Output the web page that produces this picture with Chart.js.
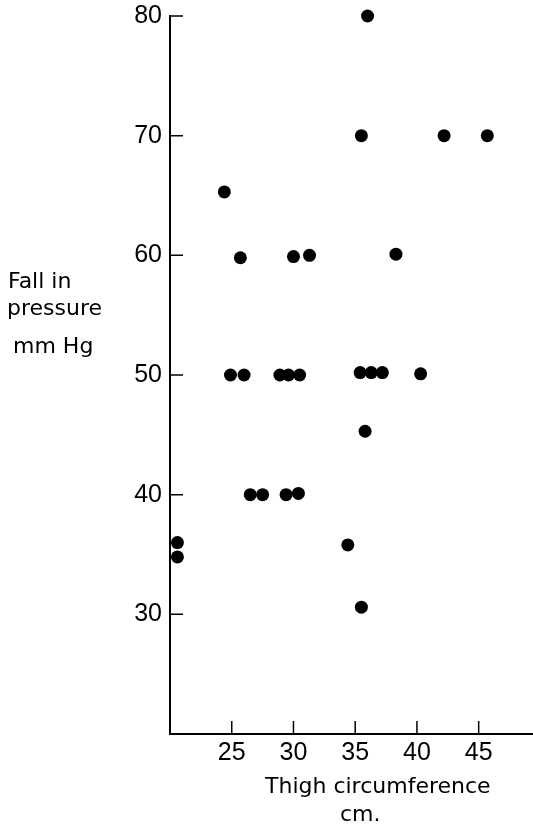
<!DOCTYPE html>
<html>
<head>
<meta charset="utf-8">
<script src="https://cdn.jsdelivr.net/npm/chart.js@4"></script>
<style>
  html, body { margin: 0; padding: 0; background: #fff; }
  #wrap { width: 533px; height: 826px; position: relative; }
</style>
</head>
<body>
<div id="wrap"><canvas id="grafica"></canvas></div>
<script>
// thigh circumference (cm) and fall in pressure (mm Hg)
const thigh = [36, 35.5, 42.2, 45.7, 24.4, 25.7, 30, 31.3, 38.3,
  24.9, 26, 28.9, 29.6, 30.5, 35.4, 36.3, 37.2, 40.3, 35.8,
  26.5, 27.5, 29.4, 30.4, 20.6, 20.6, 34.4, 35.5];
const fall = [80, 70, 70, 70, 65.3, 59.8, 59.9, 60, 60.1,
  50, 50, 50, 50, 50, 50.2, 50.2, 50.2, 50.1, 45.3,
  40, 40, 40, 40.1, 36, 34.8, 35.8, 30.6];

const xTicks = [25, 30, 35, 40, 45];
const yTicks = [30, 40, 50, 60, 70, 80];
const yTitle = ['Fall in', 'pressure', 'mm Hg'];
const xTitle = ['Thigh circumference', 'cm.'];

const puntos = thigh.map((v, i) => ({ x: v, y: fall[i] }));

// ticks drawn inward + the axis titles laid out like the original
const marcas = {
  id: 'marcas',
  afterDraw(chart) {
    const { ctx, chartArea, scales } = chart;
    ctx.save();
    ctx.strokeStyle = '#000';
    ctx.lineWidth = 1.5;
    ctx.beginPath();
    yTicks.forEach(v => {
      const py = scales.y.getPixelForValue(v);
      ctx.moveTo(chartArea.left, py);
      ctx.lineTo(chartArea.left + 13, py);
    });
    xTicks.forEach(v => {
      const px = scales.x.getPixelForValue(v);
      ctx.moveTo(px, chartArea.bottom);
      ctx.lineTo(px, chartArea.bottom - 13);
    });
    ctx.stroke();

    ctx.fillStyle = '#000';
    ctx.font = '22px "DejaVu Sans"';
    ctx.textAlign = 'left';
    ctx.textBaseline = 'alphabetic';
    ctx.fillText(yTitle[0], 8, 288);
    ctx.fillText(yTitle[1], 7, 315);
    ctx.fillText(yTitle[2], 13, 353);
    ctx.fillText(xTitle[0], 265, 793);
    ctx.fillText(xTitle[1], 340, 821);
    ctx.restore();
  }
};

new Chart(document.getElementById('grafica'), {
  type: 'scatter',
  data: {
    datasets: [{
      data: puntos,
      backgroundColor: '#000',
      borderWidth: 0,
      pointRadius: 6.5,
      pointHoverRadius: 6.5,
      clip: false
    }]
  },
  plugins: [marcas],
  options: {
    responsive: true,
    maintainAspectRatio: false,
    animation: false,
    devicePixelRatio: 1,
    layout: { autoPadding: false, padding: { top: 16, right: 0, left: 0, bottom: 0 } },
    plugins: {
      legend: { display: false },
      tooltip: { enabled: false }
    },
    scales: {
      x: {
        type: 'linear',
        min: 20,
        max: 49.4,
        afterBuildTicks: s => { s.ticks = xTicks.map(v => ({ value: v })); },
        afterFit: s => { s.height = 92; s.paddingLeft = 0; s.paddingRight = 0; },
        grid: { display: false, drawTicks: false },
        border: { display: true, color: '#000', width: 2 },
        ticks: {
          color: '#000',
          padding: 4,
          maxRotation: 0,
          font: { family: 'Liberation Sans', size: 25 }
        }
      },
      y: {
        type: 'linear',
        min: 20,
        max: 80,
        afterBuildTicks: s => { s.ticks = yTicks.map(v => ({ value: v })); },
        afterFit: s => { s.width = 170; s.paddingTop = 0; s.paddingBottom = 0; },
        grid: { display: false, drawTicks: false },
        border: { display: true, color: '#000', width: 2 },
        ticks: {
          color: '#000',
          padding: 8,
          font: { family: 'Liberation Sans', size: 25 }
        }
      }
    }
  }
});
</script>
</body>
</html>
